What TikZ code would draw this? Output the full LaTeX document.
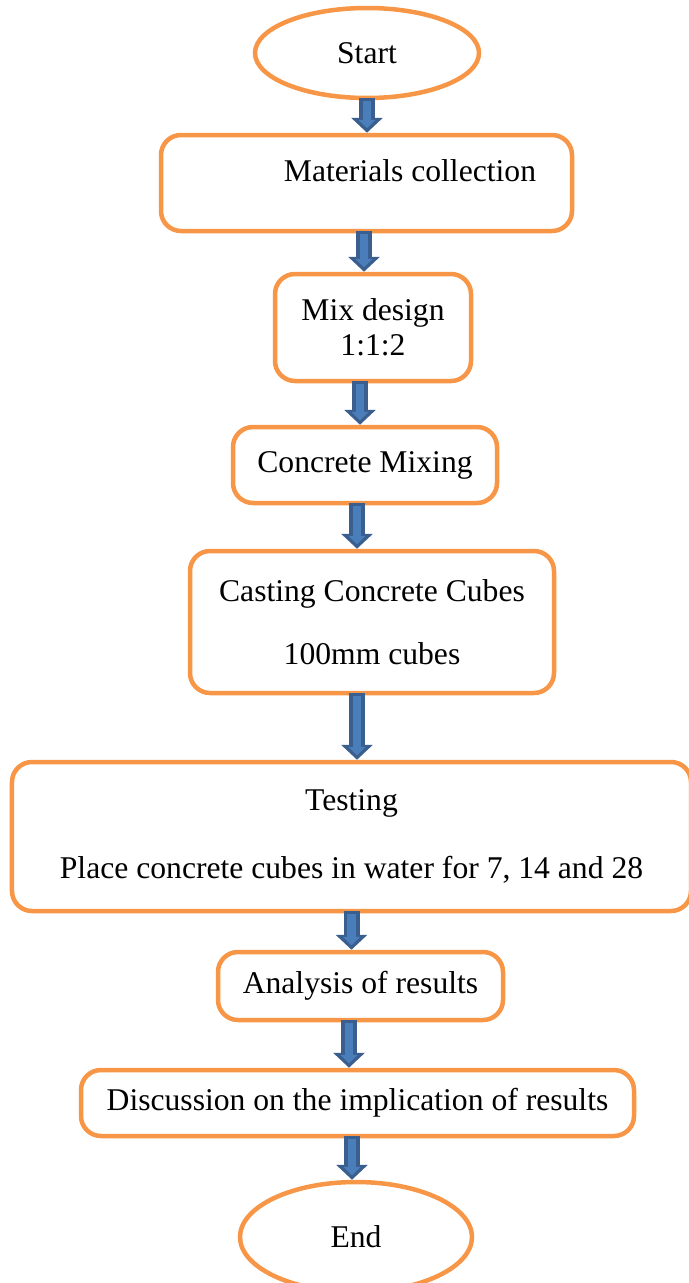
\documentclass[tikz,border=0pt]{standalone}
\usepackage{fontspec}
\setmainfont{Liberation Serif}
\usetikzlibrary{arrows.meta,shapes.geometric}

\definecolor{boxorange}{HTML}{F79646}
\definecolor{arrowline}{HTML}{3A5F8E}
\definecolor{arrowfill}{HTML}{4A7EBB}

\tikzset{
  stepbox/.style={draw=boxorange,line width=0.09cm,rounded corners=0.4cm,
    align=center,inner sep=0pt,font=\fontsize{18}{20}\selectfont},
  termbox/.style={draw=boxorange,line width=0.09cm,ellipse,inner sep=0pt,
    font=\fontsize{18}{20}\selectfont},
  arrout/.style={line width=0.32cm,draw=arrowline,
    -{Triangle[width=0.62cm,length=0.30cm]}},
  arrin/.style={line width=0.17cm,draw=arrowfill,shorten <=0.06cm,shorten >=0.09cm,
    -{Triangle[width=0.34cm,length=0.17cm]}}
}

\begin{document}
\begin{tikzpicture}
\useasboundingbox (0,0) rectangle (13.78,-25.66);
\clip (0,0) rectangle (13.78,-25.66);

\node[termbox,minimum width=4.48cm,minimum height=1.80cm] (start) at (7.34,-1.06) {Start};
\node[stepbox,minimum width=8.22cm,minimum height=1.92cm] (mat) at (7.33,-3.66) {};
\node[font=\fontsize{18}{20}\selectfont] (mattext) at (8.20,-3.42) {Materials collection};
\node[stepbox,minimum width=3.92cm,minimum height=2.14cm] (mix) at (7.46,-6.55)
  {Mix design\\1:1:2};
\node[stepbox,minimum width=5.28cm,minimum height=1.52cm] (conc) at (7.30,-9.30)
  {Concrete Mixing};
\node[stepbox,minimum width=7.28cm,minimum height=2.84cm] (cast) at (7.44,-12.44)
  {Casting Concrete Cubes\\[16pt]100mm cubes};
\node[stepbox,minimum width=13.58cm,minimum height=2.98cm] (test) at (7.03,-16.73)
  {Testing\\[19pt]Place concrete cubes in water for 7, 14 and 28};
\node[stepbox,minimum width=5.70cm,minimum height=1.36cm] (ana) at (7.21,-19.72)
  {Analysis of results};
\node[stepbox,minimum width=11.06cm,minimum height=1.32cm] (disc) at (7.15,-22.06)
  {Discussion on the implication of results};
\node[termbox,minimum width=4.64cm,minimum height=2.20cm] (end) at (7.12,-24.74) {End};

% block arrows between the steps
\foreach \a/\b/\dx in {start/mat/0, mat/mix/-0.05, mix/conc/-0.26, conc/cast/-0.16,
    cast/test/-0.30, test/ana/0, ana/disc/-0.23, disc/end/-0.11} {
  \draw[arrout] ([xshift=\dx cm,yshift=0.04cm]\a.south)
    -- ([xshift=\dx cm]\a.south |- \b.north);
  \draw[arrin] ([xshift=\dx cm,yshift=0.04cm]\a.south)
    -- ([xshift=\dx cm]\a.south |- \b.north);
}
\end{tikzpicture}
\end{document}
